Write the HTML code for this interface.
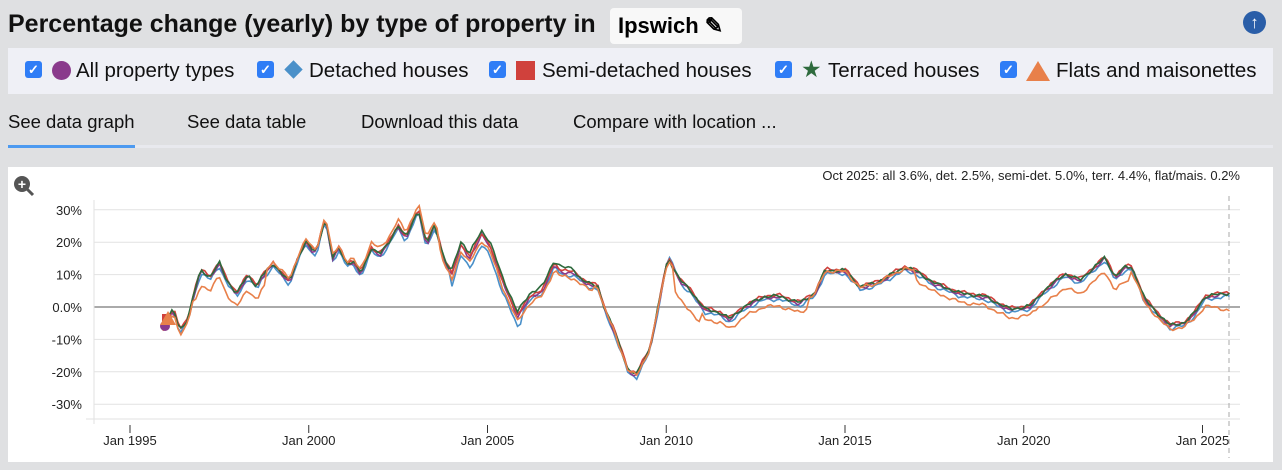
<!DOCTYPE html>
<html><head><meta charset="utf-8">
<style>
body{margin:0;width:1282px;height:470px;background:#dfe0e2;font-family:"Liberation Sans",sans-serif;position:relative;overflow:hidden}
.t{position:absolute;left:8px;top:10px;font-size:25px;font-weight:bold;color:#111;white-space:nowrap}
.loc{position:absolute;left:610px;top:8px;width:132px;height:36px;background:#f8f8f8;border-radius:4px;font-size:22px;font-weight:bold;line-height:36px;padding-left:8px;box-sizing:border-box}
.up{position:absolute;left:1243px;top:11px;width:23px;height:23px;border-radius:50%;background:#2a5ea8;color:#fff;text-align:center;font-size:17px;line-height:23px;font-weight:bold}
.leg{position:absolute;left:8px;top:48px;width:1265px;height:46px;background:#eff0f6}
.leg span{position:absolute;top:11px;font-size:20.5px;color:#111;white-space:nowrap}
.cb{position:absolute;top:13px;width:17px;height:17px;background:#2f7df6;border-radius:3px;color:#fff;font-size:13px;line-height:17px;text-align:center;font-weight:bold}
.tab{position:absolute;top:111px;font-size:18.5px;color:#111;white-space:nowrap}
.chart{position:absolute;left:8px;top:167px;width:1265px;height:295px;background:#fff}
</style></head><body>
<div class="t">Percentage change (yearly) by type of property in</div>
<div class="loc">Ipswich ✎</div>
<div class="up">↑</div>
<div class="leg">
<div class="cb" style="left:17px">✓</div><div style="position:absolute;left:44px;top:13px;width:19px;height:19px;border-radius:50%;background:#8a3a8c"></div><span style="left:68px">All property types</span>
<div class="cb" style="left:249px">✓</div><div style="position:absolute;left:279px;top:15px;width:13px;height:13px;background:#4a90c9;transform:rotate(45deg)"></div><span style="left:301px">Detached houses</span>
<div class="cb" style="left:481px">✓</div><div style="position:absolute;left:508px;top:13px;width:19px;height:19px;background:#d0413c"></div><span style="left:534px">Semi-detached houses</span>
<div class="cb" style="left:767px">✓</div><span style="left:793px;top:8px;color:#2e6a3d;font-size:23px">★</span><span style="left:820px">Terraced houses</span>
<div class="cb" style="left:992px">✓</div><div style="position:absolute;left:1018px;top:13px;width:0;height:0;border-left:12px solid transparent;border-right:12px solid transparent;border-bottom:20px solid #e8804a"></div><span style="left:1048px">Flats and maisonettes</span>
</div>
<div class="tab" style="left:8px">See data graph</div>
<div class="tab" style="left:187px">See data table</div>
<div class="tab" style="left:361px">Download this data</div>
<div class="tab" style="left:573px">Compare with location ...</div>
<div style="position:absolute;left:8px;top:145px;width:1265px;height:3px;background:#e8e9ee"></div>
<div style="position:absolute;left:8px;top:145px;width:127px;height:3px;background:#4d9af0"></div>
<div class="chart"></div>
<svg id="s" style="position:absolute;left:0;top:0" width="1282" height="470"></svg>
<script>
var s=document.getElementById('s'),h='';
function X(y){return 130+(y-1995)*35.75}
function Y(v){return 307-v*3.24}
function yr(x){return 1995+(x-130)/35.75}
h+='<circle cx="22" cy="184" r="8" fill="#555"/><line x1="27" y1="189" x2="33" y2="195" stroke="#555" stroke-width="3"/><text x="22" y="189" fill="#fff" font-size="14" font-weight="bold" text-anchor="middle" font-family="Liberation Sans">+</text>';
h+='<text x="1240" y="180" font-size="13" text-anchor="end" fill="#222" font-family="Liberation Sans">Oct 2025: all 3.6%, det. 2.5%, semi-det. 5.0%, terr. 4.4%, flat/mais. 0.2%</text>';
[30,20,10,0,-10,-20,-30].forEach(function(v){
 h+='<line x1="94" x2="1240" y1="'+Y(v)+'" y2="'+Y(v)+'" stroke="'+(v==0?'#aaa':'#e2e2e2')+'" stroke-width="'+(v==0?2:1)+'"/>';
 h+='<text x="82" y="'+(Y(v)+5)+'" font-size="13" text-anchor="end" fill="#222" font-family="Liberation Sans">'+(v==0?'0.0':v)+'%</text>';
});
h+='<line x1="94" x2="94" y1="200" y2="424" stroke="#e2e2e2"/><line x1="86" x2="1240" y1="419" y2="419" stroke="#e2e2e2"/>';
[1995,2000,2005,2010,2015,2020,2025].forEach(function(y){h+='<line x1="'+X(y)+'" x2="'+X(y)+'" y1="425" y2="433" stroke="#333"/><text x="'+X(y)+'" y="445" font-size="13" text-anchor="middle" fill="#222" font-family="Liberation Sans">Jan '+y+'</text>'});
h+='<line x1="1229" x2="1229" y1="196" y2="458" stroke="#aaa" stroke-dasharray="5,4"/>';
var kx=[[163,-6],[173.5,-1],[179.6,-7.5],[187.8,-4],[193.9,4],[200.8,11],[210,9],[219.2,13.5],[226.5,8],[236.7,4],[247.8,9.5],[257,6],[261,9],[273.5,13],[289.8,7.5],[298,15],[306,20],[314,16.5],[317.5,18],[325.3,27.5],[332.7,15],[339,18],[347,13],[353,14],[361,10],[371.4,18],[379.6,16],[387.8,19],[398,25],[406,21],[418.4,30],[426.5,19],[434.7,25],[444.9,14],[452,10],[461.2,19],[469.4,15],[481.6,22],[489.8,19],[502,8],[517.6,-3],[530.6,3],[542.9,5],[554.3,13],[561,11],[575.5,10],[587.8,7],[598,6],[604,0],[616,-9],[628.6,-20],[636.7,-21],[650,-13],[668,15],[680,8],[690,5],[705,-1],[720,-2],[730,-4],[745,0],[765,3],[780,3],[800,1],[815,4],[825,11],[845,11],[860,6],[875,7],[905,12],[915,11],[935,7],[960,4],[985,3],[1010,-1],[1030,0],[1045,5],[1065,10],[1080,8],[1105,15],[1115,9],[1125,12],[1132,12],[1145,2],[1160,-3],[1170,-6],[1185,-5],[1195,-2],[1205,3],[1229,4]];
var k=kx.map(function(p){return [yr(p[0]),p[1]]});
function base(t){for(var i=0;i<k.length-1;i++)if(t<=k[i+1][0]){var a=k[i],b=k[i+1],f=(t-a[0])/(b[0]-a[0]);return a[1]+(b[1]-a[1])*f}return k[k.length-1][1]}
function flatOff(t){if(t<1996.8)return -1;if(t<1998.8)return -4;if(t<2001.5)return 1;if(t<2003.6)return 2;if(t<2008)return -1.5;if(t<2010.2)return 0;if(t<2011)return -6;if(t<2014)return -2.8;if(t<2017)return 0;if(t<2020.5)return -2.5;if(t<2023)return -4;if(t<2024.6)return -1;return -1-(t-2024.6)*3.5}
var ser=[['#4a90c9',function(t){return t>2004&&t<2006?-3:(t>2009.9&&t<2010.4?0.7:-0.7)}],['#8a3a8c',function(){return 0}],['#d0413c',function(t){return 0.6}],['#2e6a3d',function(t){return t>2004&&t<2007.5?1.5:0.3}],['#e8804a',flatOff]];
ser.forEach(function(sr,j){var p='';for(var t=yr(163);t<=2025.76;t+=1/12){var v=base(t)+sr[1](t)+Math.sin(t*23.1+j*3)*0.35+Math.sin(t*9.7+j)*0.3;p+=(p?'L':'M')+X(t).toFixed(1)+','+Y(v).toFixed(1)}h+='<path d="'+p+'" fill="none" stroke="'+sr[0]+'" stroke-width="1.6"/>'});
h+='<circle cx="165" cy="326" r="5" fill="#8a3a8c"/><rect x="162" y="314" width="9" height="9" fill="#d0413c"/><polygon points="168,311 176,325 160,325" fill="#e8804a"/>';
s.innerHTML=h;
</script>
</body></html>
